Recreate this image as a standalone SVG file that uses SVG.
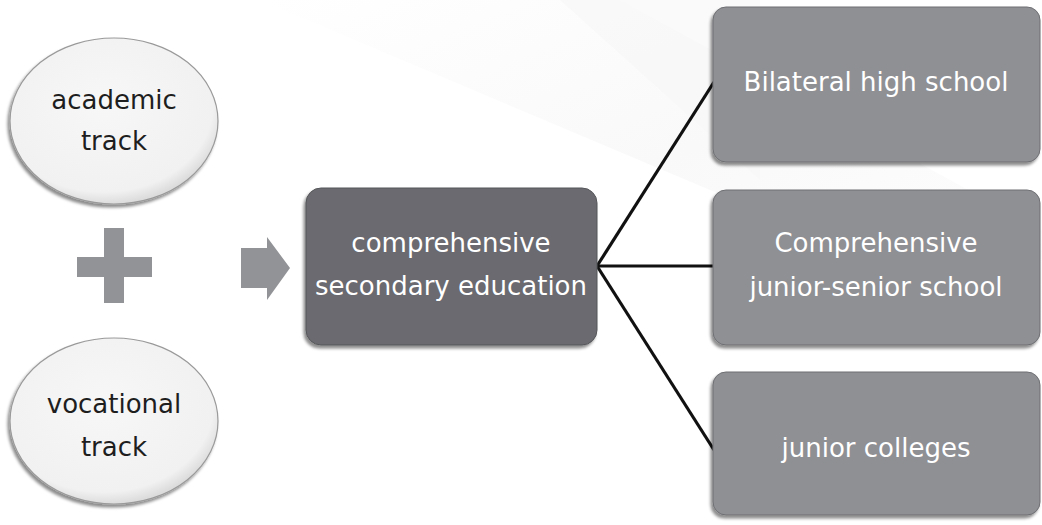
<svg xmlns="http://www.w3.org/2000/svg" width="1042" height="525" viewBox="0 0 1042 525">
<defs>
<linearGradient id="bg" x1="0" y1="0" x2="1" y2="1">
<stop offset="0" stop-color="#ffffff"/>
<stop offset="0.5" stop-color="#f5f5f5"/>
<stop offset="1" stop-color="#ffffff"/>
</linearGradient>
<radialGradient id="ell" cx="0.45" cy="0.4" r="0.6">
<stop offset="0" stop-color="#f7f7f7"/>
<stop offset="0.88" stop-color="#f1f1f1"/>
<stop offset="1" stop-color="#dcdcdc"/>
</radialGradient>
<filter id="sh" x="-10%" y="-10%" width="125%" height="125%">
<feDropShadow dx="-2" dy="3" stdDeviation="1.5" flood-color="#000" flood-opacity="0.45"/>
</filter>
</defs>
<style>
.ell{fill:url(#ell);stroke:#9a9a9a;stroke-width:1.2;filter:url(#sh)}
.box1{fill:#6a6b6f;stroke:#55565a;stroke-width:1;filter:url(#sh)}
.box2{fill:#8f9094;stroke:#6e6f73;stroke-width:1;filter:url(#sh)}
.sym{fill:#929397}
.t{font-family:"DejaVu Sans","Open Sans",sans-serif;font-size:26px;text-anchor:middle;dominant-baseline:central}
.dark{fill:#1e1e1e}
.light{fill:#ffffff}
.con{stroke:#111;stroke-width:3.2;fill:none}
</style>
<rect width="1042" height="525" fill="#ffffff"/>
<polygon points="260,0 620,0 1042,230 1042,330" fill="url(#bg)" opacity="0.6"/>
<polygon points="560,0 760,0 760,180" fill="#f7f7f7" opacity="0.6"/>

<g id="connectors">
<line class="con" x1="597" y1="266" x2="714" y2="82"/>
<line class="con" x1="597" y1="266" x2="714" y2="266"/>
<line class="con" x1="597" y1="266" x2="714" y2="450"/>
</g>

<g id="academic">
<ellipse class="ell" cx="114" cy="121" rx="104" ry="83"/>
<text class="t dark" x="114" y="100">academic</text>
<text class="t dark" x="114" y="141">track</text>
</g>

<g id="plus">
<rect class="sym" x="104" y="228" width="20" height="75"/>
<rect class="sym" x="77" y="257" width="75" height="20"/>
</g>

<g id="vocational">
<ellipse class="ell" cx="114" cy="421" rx="104" ry="83"/>
<text class="t dark" x="114" y="404">vocational</text>
<text class="t dark" x="114" y="447">track</text>
</g>

<g id="arrow">
<polygon class="sym" points="241,248 267,248 267,237 290,268 267,300 267,288 241,288"/>
</g>

<g id="comprehensive-secondary">
<rect class="box1" x="306" y="188" width="291" height="157" rx="15"/>
<text class="t light" x="451" y="243">comprehensive</text>
<text class="t light" x="451" y="286">secondary education</text>
</g>

<g id="bilateral">
<rect class="box2" x="713" y="7" width="327" height="155" rx="13"/>
<text class="t light" x="876" y="82">Bilateral high school</text>
</g>

<g id="comprehensive-junior-senior">
<rect class="box2" x="713" y="190" width="327" height="155" rx="13"/>
<text class="t light" x="876" y="243">Comprehensive</text>
<text class="t light" x="876" y="287">junior-senior school</text>
</g>

<g id="junior-colleges">
<rect class="box2" x="713" y="372" width="327" height="143" rx="13"/>
<text class="t light" x="876" y="448">junior colleges</text>
</g>
</svg>
